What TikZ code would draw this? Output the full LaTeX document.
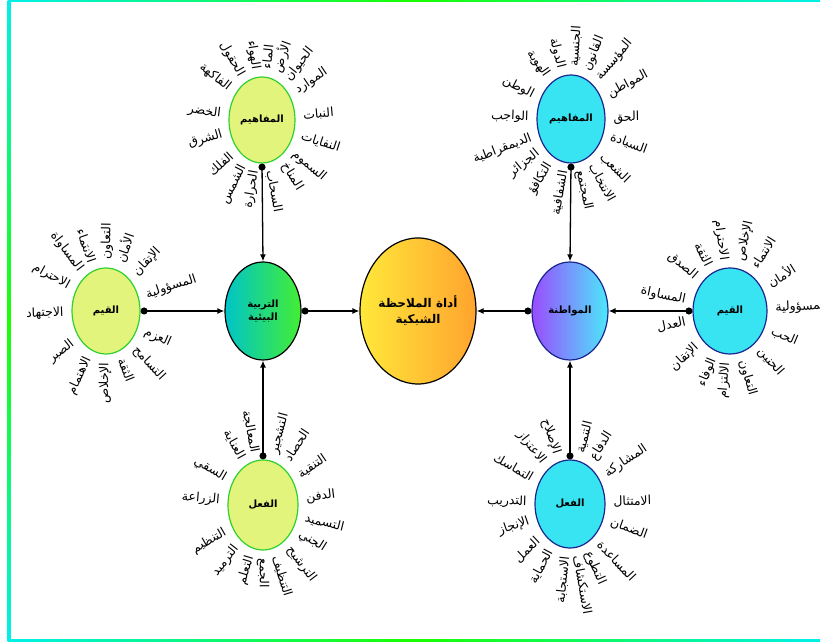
\documentclass[tikz,border=0pt]{standalone}
\usepackage{fontspec}
\usetikzlibrary{shapes.geometric,arrows.meta}
\newfontfamily\arfont[Script=Arabic]{DejaVu Sans}
\TeXXeTstate=1
\definecolor{lgreen}{HTML}{E2F47C}
\definecolor{gborder}{HTML}{2ED12E}
\definecolor{cyanf}{HTML}{38E4F2}
\definecolor{bborder}{HTML}{1A2690}
\definecolor{fcyan}{HTML}{00F0E8}
\definecolor{fgreen}{HTML}{1AFF00}
\definecolor{tealc}{HTML}{00C4C8}
\definecolor{greenc}{HTML}{44EE33}
\definecolor{purplec}{HTML}{9A4CFF}
\definecolor{cyanc}{HTML}{4CE8F8}
\definecolor{yellowc}{HTML}{FFE83A}
\definecolor{orangec}{HTML}{FFA42E}
\newcounter{wn}
\newcommand\radword[6]{%
  \stepcounter{wn}%
  \pgfmathtruncatemacro\rside{cos(#5)>=0 ? 1 : 0}%
  \ifnum\rside=1
    \node[word,anchor=west,rotate=#5] (w\thewn) at ({#1+(#3+8)*cos(#5)},{#2+(#4+8)*sin(#5)}) {\beginR #6\endR};%
  \else
    \node[word,anchor=east,rotate=#5-180] (w\thewn) at ({#1+(#3+8)*cos(#5)},{#2+(#4+8)*sin(#5)}) {\beginR #6\endR};%
  \fi}
\tikzset{
  word/.style={font=\arfont\fontsize{12.5}{14}\selectfont, inner sep=0.3pt},
  bub/.style={ellipse, inner sep=0pt, line width=1.2pt, font=\arfont\bfseries\fontsize{10}{12}\selectfont, align=center},
  gbub/.style={bub, fill=lgreen, draw=gborder},
  cbub/.style={bub, fill=cyanf, draw=bborder},
  conn/.style={line width=1.3pt, {Circle[length=7pt]}-{Latex[length=7pt,width=6pt]}}
}
\begin{document}
\begin{tikzpicture}[x=1pt,y=1pt]
\useasboundingbox (0,0) rectangle (820,642);
% frame
\shade[top color=fcyan, bottom color=fcyan, middle color=fgreen] (7.5,0) rectangle (10.5,642);
\shade[left color=fcyan, right color=fcyan, middle color=fgreen] (8,640.3) rectangle (820,642);
\shade[left color=fcyan, right color=fcyan, middle color=fgreen] (8,0) rectangle (820,2.5);
% main nodes
\node[bub, minimum width=116pt, minimum height=146pt, left color=yellowc, right color=orangec, draw=black, font=\arfont\bfseries\fontsize{12}{16}\selectfont] (cen) at (418,331) {\beginR أداة الملاحظة\endR\\\beginR الشبكية\endR};
\node[bub, minimum width=76pt, minimum height=98pt, left color=tealc, right color=greenc, draw=black, font=\arfont\bfseries\fontsize{10}{13}\selectfont] (tarb) at (263,331) {\beginR التربية\endR\\\beginR البيئية\endR};
\node[bub, minimum width=76pt, minimum height=98pt, left color=purplec, right color=cyanc, draw=bborder, font=\arfont\bfseries\fontsize{10}{13}\selectfont] (muw) at (570,331) {\beginR المواطنة\endR};
\node[gbub, minimum width=66pt, minimum height=86pt] (tlm) at (262,522) {\beginR المفاهيم\endR};
\node[cbub, minimum width=68pt, minimum height=88pt] (trm) at (571,523) {\beginR المفاهيم\endR};
\node[gbub, minimum width=68pt, minimum height=86pt] (lq) at (106,331) {\beginR القيم\endR};
\node[cbub, minimum width=74pt, minimum height=86pt] (rq) at (730,331) {\beginR القيم\endR};
\node[gbub, minimum width=70pt, minimum height=90pt] (blf) at (263,137) {\beginR الفعل\endR};
\node[cbub, minimum width=70pt, minimum height=88pt] (brf) at (570,138) {\beginR الفعل\endR};
% connectors
\draw[conn] (tlm.south) -- (tarb.north);
\draw[conn] (blf.north) -- (tarb.south);
\draw[conn] (lq.east) -- (tarb.west);
\draw[conn] (tarb.east) -- (cen.west);
\draw[conn] (muw.west) -- (cen.east);
\draw[conn] (trm.south) -- (muw.north);
\draw[conn] (brf.north) -- (muw.south);
\draw[conn] (rq.west) -- (muw.east);
% words
\foreach \a/\t in {120/الحقول, 99/الهواء, 84/الماء, 70/الأرض, 52/الحيوان, 34/الموارد, 5/النبات, -18/النفايات, -40/السموم, -58/المناخ, -79/السحاب, -100/الحرارة, -117/الشمس, -138/الفلك, 196/الشرق, 173/الخضر, 142/الفاكهة}
  {\radword{262}{522}{33}{43}{\a}{\t}}
\foreach \a/\t in {86/الجنسية, 104/الدولة, 125/الهوية, 68/القانون, 50/المؤسسة, 28/المواطن, 1/الحق, -20/السيادة, -44/الشعب, -61/الانتخاب, -78/المجتمع, -100/الشفافية, -121/التكافؤ, -141/الجزائر, -159/الديمقراطية, 178/الواجب, 153/الوطن}
  {\radword{571}{523}{34}{44}{\a}{\t}}
\foreach \a/\t in {151/الاحترام, 127/المساواة, 109/الانتماء, 89/التعاون, 71/الأمان, 46/الإتقان, 18/المسؤولية, -24/العزم, -47/التسامح, -68/الثقة, -91/الإخلاص, -115/الاهتمام, -142/الصبر, 182/الاجتهاد}
  {\radword{106}{331}{34}{43}{\a}{\t}}
\foreach \a/\t in {98/الاحترام, 77/الإخلاص, 58/الانتماء, 32/الأمان, 3/المسؤولية, -23/الحب, -49/الحنين, -74/التعاون, -95/الالتزام, -112/الوفاء, -137/الإتقان, -168/العدل, 168/المساواة, 139/الصدق, 117/الثقة}
  {\radword{730}{331}{37}{43}{\a}{\t}}
\foreach \a/\t in {101/المعالجة, 75/التشجير, 57/الحصاد, 34/التنقية, 7/الدفن, -14/التسميد, -32/الجني, -53/الترشيح, -73/التنظيف, -90/الجمع, -107/التعلم, -128/الترميد, -150/التنظيم, 175/الزراعة, 150/السقي, 119/العناية}
  {\radword{263}{137}{35}{45}{\a}{\t}}
\foreach \a/\t in {108/الإصلاح, 76/التنمية, 58/الدفاع, 34/المشاركة, 2/الامتثال, -20/الضمان, -47/المساعدة, -66/التطوع, -80/الاستكشاف, -96/الاستجابة, -118/الحماية, -137/العمل, -161/الإنجاز, 178/التدريب, 150/التماسك, 128/الاعتزاز}
  {\radword{570}{138}{35}{44}{\a}{\t}}
\end{tikzpicture}
\end{document}
